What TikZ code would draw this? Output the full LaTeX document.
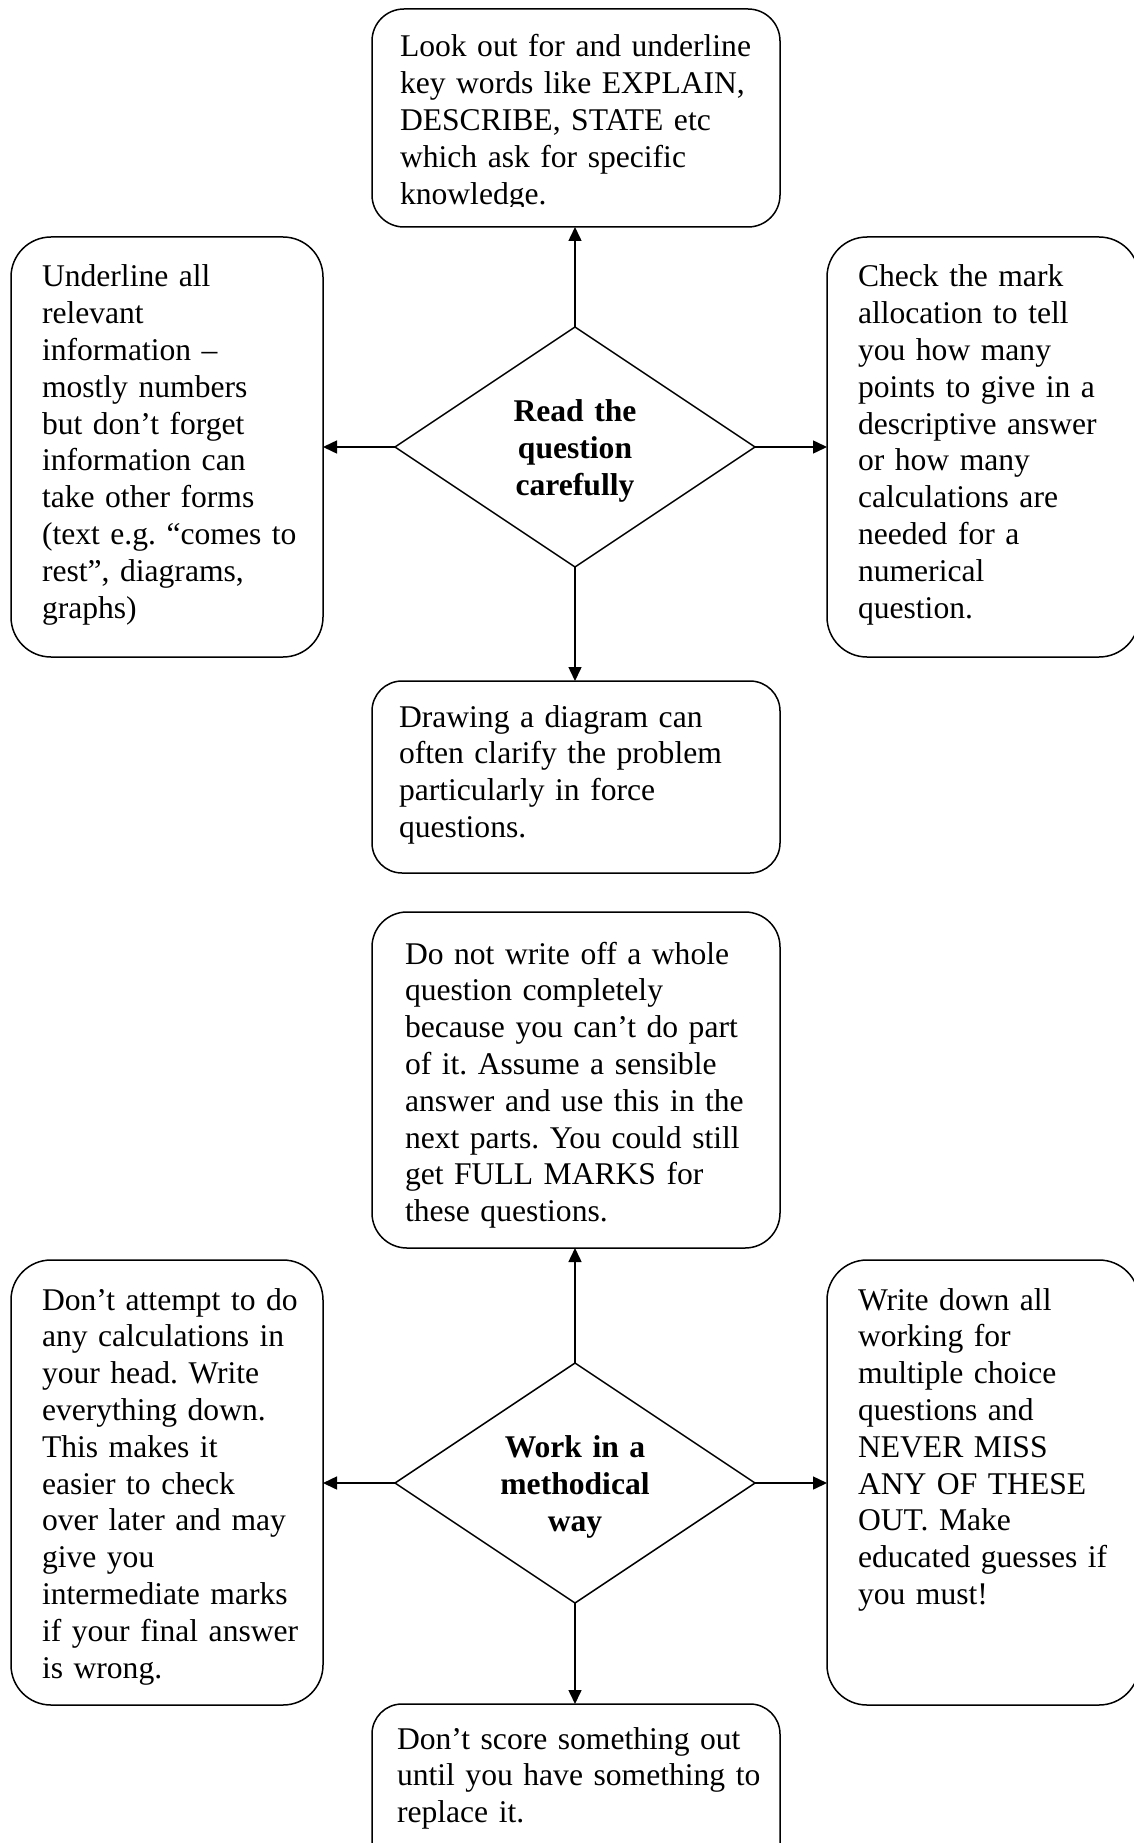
\documentclass[tikz,border=0pt]{standalone}
\usepackage{fontspec}
\setmainfont{Liberation Serif}
\usetikzlibrary{shapes.geometric,arrows.meta}
\frenchspacing
\begin{document}
\begin{tikzpicture}[x=1pt,y=-1pt,
  box/.style={draw=black,line width=1.5pt,rounded corners=#1,inner sep=0pt,outer sep=0pt,fill=none},
  box/.default=32pt,
  dia/.style={draw=black,line width=1.5pt,shape=diamond,inner sep=0pt,outer sep=0pt,minimum width=360pt,minimum height=240pt},
  txt/.style={anchor=base west,inner sep=0pt,outer sep=0pt,text width=420pt,align=left,font=\fontsize{31.6}{36.8}\selectfont\frenchspacing},
  ctxt/.style={anchor=base,inner sep=0pt,outer sep=0pt,text width=300pt,align=center,font=\fontsize{31.6}{37}\selectfont\bfseries},
  arr/.style={line width=1.5pt,-{Triangle[length=14pt,width=13pt]}}]
\useasboundingbox (0,0) rectangle (1133,1843);
\fill[white] (0,0) rectangle (1133,1843);

% ---------- upper group ----------
\node[dia] (d1) at (575,447) {};
\node[ctxt] (d1t) at (575,421) {Read the\\question\\carefully};

\node[box=32pt,minimum width=408pt,minimum height=218pt] (b1) at (576,118) {};
\begin{scope}
\clip (372,9) rectangle (780,207);
\node[txt] (b1t) at (400,57) {Look out for and underline\\key words like EXPLAIN,\\DESCRIBE, STATE etc\\which ask for specific\\knowledge.};
\end{scope}

\node[box=40pt,minimum width=312pt,minimum height=420pt] (b2) at (167,447) {};
\node[txt] (b2t) at (42,287) {Underline all\\relevant\\information --\\mostly numbers\\but don’t forget\\information can\\take other forms\\(text e.g. “comes to\\rest”, diagrams,\\graphs)};

\node[box=40pt,minimum width=312pt,minimum height=420pt] (b3) at (983,447) {};
\node[txt] (b3t) at (858,287) {Check the mark\\allocation to tell\\you how many\\points to give in a\\descriptive answer\\or how many\\calculations are\\needed for a\\numerical\\question.};

\node[box=30pt,minimum width=408pt,minimum height=192pt] (b4) at (576,777) {};
\node[txt] (b4t) at (399,727) {Drawing a diagram can\\often clarify the problem\\particularly in force\\questions.};

\draw[arr] (d1.north) -- (d1.north |- b1.south);
\draw[arr] (d1.west) -- (b2.east |- d1.west);
\draw[arr] (d1.east) -- (b3.west |- d1.east);
\draw[arr] (d1.south) -- (d1.south |- b4.north);

% ---------- lower group ----------
\node[dia] (d2) at (575,1483) {};
\node[ctxt] (d2t) at (575,1457) {Work in a\\methodical\\way};

\node[box=35pt,minimum width=408pt,minimum height=336pt] (b5) at (576,1080) {};
\node[txt] (b5t) at (405,964) {Do not write off a whole\\question completely\\because you can’t do part\\of it. Assume a sensible\\answer and use this in the\\next parts. You could still\\get FULL MARKS for\\these questions.};

\node[box=40pt,minimum width=312pt,minimum height=445pt] (b6) at (167,1482.5) {};
\node[txt] (b6t) at (42,1310) {Don’t attempt to do\\any calculations in\\your head. Write\\everything down.\\This makes it\\easier to check\\over later and may\\give you\\intermediate marks\\if your final answer\\is wrong.};

\node[box=40pt,minimum width=312pt,minimum height=445pt] (b7) at (983,1482.5) {};
\node[txt] (b7t) at (858,1310) {Write down all\\working for\\multiple choice\\questions and\\NEVER MISS\\ANY OF THESE\\OUT. Make\\educated guesses if\\you must!};

\node[box=30pt,minimum width=408pt,minimum height=170pt] (b8) at (576,1789) {};
\node[txt] (b8t) at (397,1749) {Don’t score something out\\until you have something to\\replace it.};

\draw[arr] (d2.north) -- (d2.north |- b5.south);
\draw[arr] (d2.west) -- (b6.east |- d2.west);
\draw[arr] (d2.east) -- (b7.west |- d2.east);
\draw[arr] (d2.south) -- (d2.south |- b8.north);
\end{tikzpicture}
\end{document}
